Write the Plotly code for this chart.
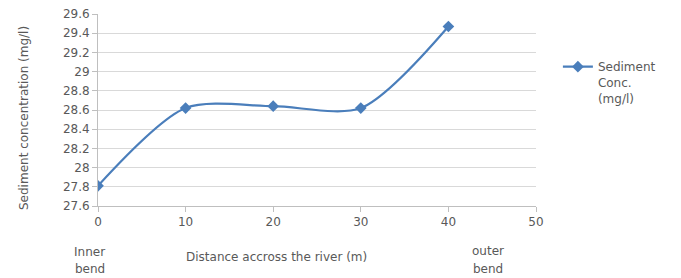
import plotly.graph_objects as go

distance = [0, 10, 20, 30, 40]
conc = [27.81, 28.62, 28.64, 28.62, 29.47]
series_name = "Sediment<br>Conc.<br>(mg/l)"
y_ticks = [27.6, 27.8, 28.0, 28.2, 28.4, 28.6, 28.8, 29.0, 29.2, 29.4, 29.6]
y_tick_text = ["27.6", "27.8", "28", "28.2", "28.4", "28.6", "28.8", "29", "29.2", "29.4", "29.6"]
x_ticks = [0, 10, 20, 30, 40, 50]

font_fam = "DejaVu Sans, sans-serif"
grey = "#595959"
blue = "#4A7EBB"

fig = go.Figure()
fig.add_trace(go.Scatter(
    x=distance, y=conc, name=series_name, mode="lines+markers",
    line=dict(color=blue, width=2.2, shape="spline", smoothing=0.8),
    marker=dict(symbol="diamond", size=9, color=blue),
))

fig.update_layout(
    width=681, height=278,
    margin=dict(l=98, r=145, t=14, b=72),
    plot_bgcolor="white", paper_bgcolor="white",
    font=dict(family=font_fam, size=12, color=grey),
    showlegend=True,
    legend=dict(x=1.05, y=0.80, xanchor="left", yanchor="top", valign="top",
                font=dict(size=12, color=grey), itemwidth=30,
                bgcolor="rgba(0,0,0,0)"),
    xaxis=dict(range=[0, 50], tickvals=x_ticks, showgrid=False, zeroline=False,
               showline=True, linecolor="#BFBFBF", linewidth=1, automargin=False,
               ticks="outside", ticklen=5, tickcolor="#BFBFBF",
               tickfont=dict(size=12, color=grey)),
    yaxis=dict(range=[27.6, 29.6], tickvals=y_ticks, ticktext=y_tick_text,
               showgrid=True, gridcolor="#D9D9D9", gridwidth=1, zeroline=False,
               showline=True, linecolor="#BFBFBF", linewidth=1, automargin=False,
               ticks="outside", ticklen=5, tickcolor="#BFBFBF",
               tickfont=dict(size=12, color=grey)),
)

def ann(text, xpx, ypx, angle=0):
    fig.add_annotation(text=text, xref="paper", yref="paper",
                       x=(xpx - 98) / 438, y=(206 - ypx) / 192,
                       xanchor="center", yanchor="middle", showarrow=False,
                       textangle=angle, font=dict(size=12, color=grey))

ann("Sediment concentration (mg/l)", 24, 118, angle=-90)
ann("Distance accross the river (m)", 276, 257)
ann("Inner", 89, 252)
ann("bend", 90, 269)
ann("outer", 488, 251)
ann("bend", 488, 269)

fig.write_html("out.html", config={"displayModeBar": False},
               post_script="document.body.style.margin='0';")
